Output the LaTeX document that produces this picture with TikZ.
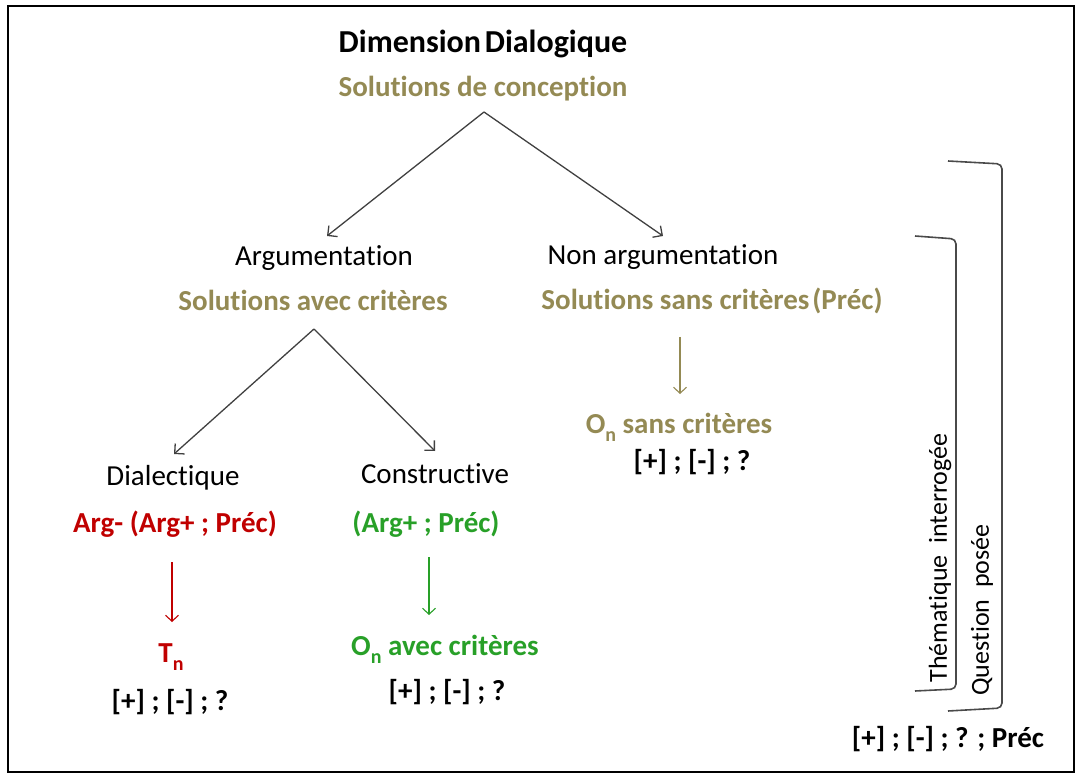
\documentclass[tikz,border=0pt]{standalone}
\usepackage{fontspec}
\setmainfont{Carlito}[Ligatures={NoCommon,NoContextual,NoRequired}]
\usetikzlibrary{arrows.meta}
\definecolor{oliveT}{HTML}{948A54}
\definecolor{redT}{HTML}{C00000}
\definecolor{greenT}{RGB}{40,160,40}
\definecolor{linegray}{HTML}{404040}
\definecolor{brkgray}{HTML}{4A4A4A}
\newcommand\lowern{\raisebox{-0.28em}{\fontsize{20}{20}\selectfont n}}
\begin{document}
\begin{tikzpicture}[x=1pt,y=-1pt,
  txt/.style={inner sep=0pt, anchor=base, font=\fontsize{29}{34}\selectfont},
  btxt/.style={inner sep=0pt, anchor=base, font=\fontsize{29}{34}\selectfont\bfseries},
  vtxt/.style={inner sep=0pt, anchor=center, rotate=90, font=\fontsize{26}{30}\selectfont},
  link/.style={draw=linegray, line width=1.3pt, -{Straight Barb[length=7pt,width=14pt]}},
  clink/.style={line width=1.1pt, -{Straight Barb[length=6pt,width=13pt]}},
  brk/.style={draw=brkgray, line width=1.6pt, rounded corners=5pt}]
\path[use as bounding box] (0,0) rectangle (1080,778);
\draw[line width=2pt] (8,6) rectangle (1074,772);

% top
\node[btxt, font=\fontsize{32}{36}\selectfont\bfseries] (dd) at (483,53) {Dimension\hspace{0.12em}Dialogique};
\node[btxt, text=oliveT] (sdc) at (483,97) {Solutions de conception};

% level 2
\node[txt] (arg) at (324,266) {Argumentation};
\node[btxt, text=oliveT] (sac) at (313,311) {Solutions avec critères};
\node[txt] (narg) at (663,265) {Non argumentation};
\node[btxt, text=oliveT] (ssc) at (712,310) {Solutions sans critères\hspace{0.1em}(Préc)};

% right branch
\node[btxt, text=oliveT] (osc) at (679,433) {O\lowern{} sans critères};
\node[btxt] (r3) at (692,470) {[+] ; [-] ; ?};

% level 3
\node[txt] (dia) at (173,485) {Dialectique};
\node[txt] (con) at (435,483) {Constructive};
\node[btxt, text=redT] (argm) at (175,532) {Arg- (Arg+ ; Préc)};
\node[btxt, text=greenT] (argp) at (426,532) {(Arg+ ; Préc)};
\node[btxt, text=redT] (tn) at (171,662) {T\lowern};
\node[btxt] (r1) at (170,710) {[+] ; [-] ; ?};
\node[btxt, text=greenT] (oac) at (445,655) {O\lowern{} avec critères};
\node[btxt] (r2) at (447,700) {[+] ; [-] ; ?};

% brackets
\draw[brk] (915,236) -- (956,239) -- (956,689) -- (915,691);
\draw[brk] (948,161) -- (1002,164) -- (1002,708) -- (948,711);
\node[vtxt] (them) at (940,558) {Thématique\hspace{0.45em}interrogée};
\node[vtxt] (qp) at (982,610) {Question\hspace{0.45em}posée};
\node[btxt] (r4) at (948,747) {[+] ; [-] ; ? ; Préc};

% connectors
\coordinate (a0) at (484,112);
\coordinate (a1) at (327,236);
\coordinate (a2) at (663,236);
\draw[link] (a0) -- (a1);
\draw[link] (a0) -- (a2);
\coordinate (b0) at (314,329);
\coordinate (b1) at (174,454);
\coordinate (b2) at (435,451);
\draw[link] (b0) -- (b1);
\draw[link] (b0) -- (b2);
\coordinate (c0) at (680,337);
\coordinate (c1) at (680,394);
\draw[clink, draw=oliveT] (c0) -- (c1);
\coordinate (d0) at (172,562);
\coordinate (d1) at (172,622);
\draw[clink, draw=redT] (d0) -- (d1);
\coordinate (e0) at (429,557);
\coordinate (e1) at (429,615);
\draw[clink, draw=greenT] (e0) -- (e1);
\end{tikzpicture}
\end{document}
